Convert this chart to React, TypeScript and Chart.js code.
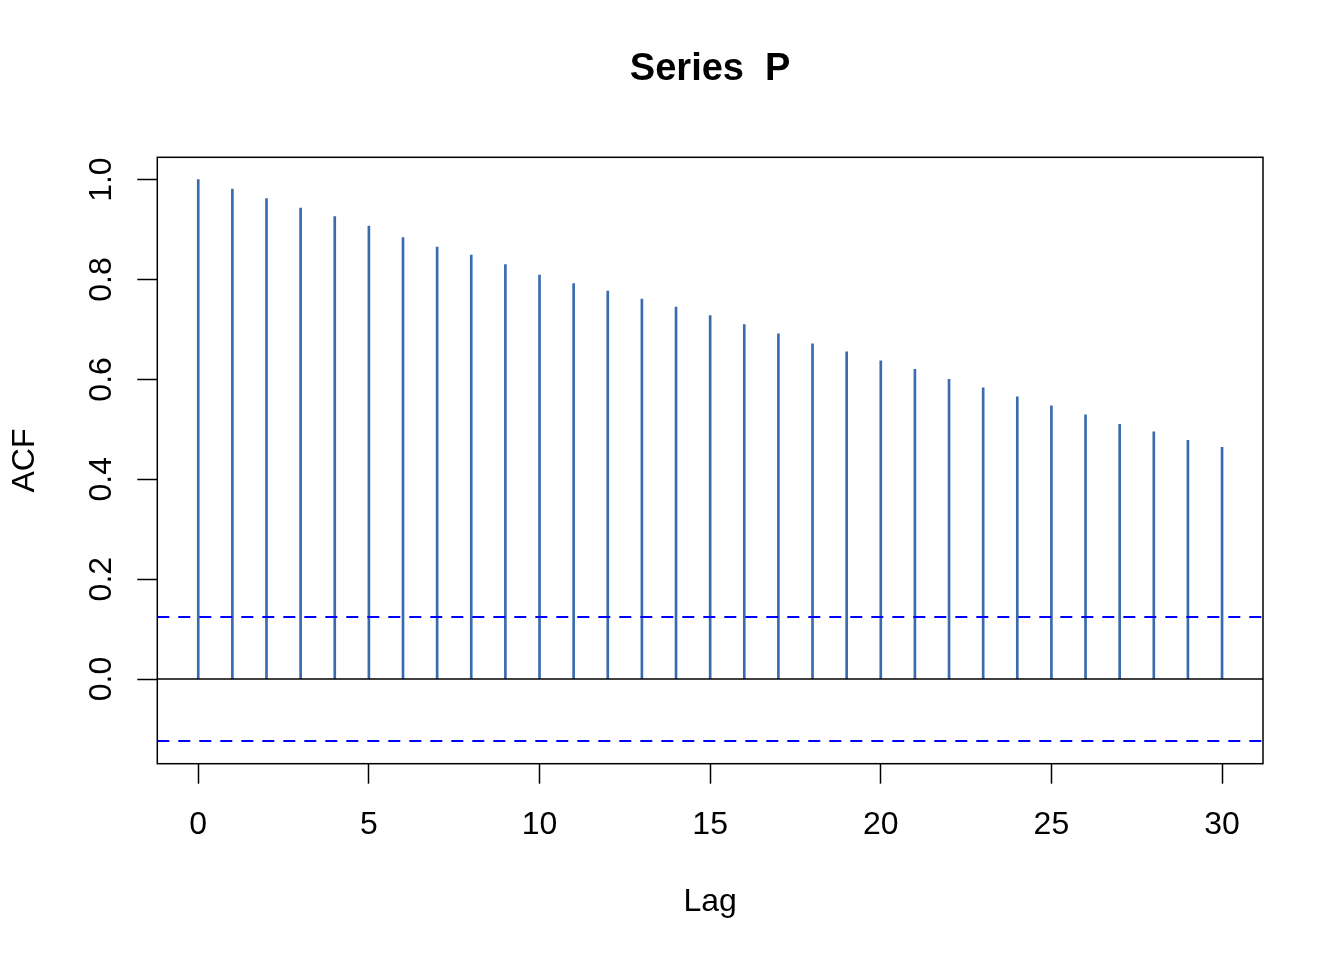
import React, { useEffect, useRef } from "react";
import { Chart, registerables } from "chart.js";

Chart.register(...registerables);

// ---- data ----
const chartTitle = "Series  P";
const xAxisTitle = "Lag";
const yAxisTitle = "ACF";
const lags = [0, 1, 2, 3, 4, 5, 6, 7, 8, 9, 10, 11, 12, 13, 14, 15, 16, 17, 18, 19, 20, 21, 22, 23, 24, 25, 26, 27, 28, 29, 30];
const acfValues = [
  1.0, 0.981, 0.962, 0.943, 0.926, 0.907, 0.884, 0.865, 0.849, 0.83, 0.809,
  0.792, 0.777, 0.761, 0.745, 0.728, 0.71, 0.691, 0.671, 0.655, 0.637,
  0.62, 0.6, 0.583, 0.565, 0.547, 0.529, 0.51, 0.495, 0.478, 0.464,
];
const ciUpper = 0.124;
const ciLower = -0.124;
const xTickValues = [0, 5, 10, 15, 20, 25, 30];
const xTickLabels = ["0", "5", "10", "15", "20", "25", "30"];
const yTickValues = [0, 0.2, 0.4, 0.6, 0.8, 1.0];
const yTickLabels = ["0.0", "0.2", "0.4", "0.6", "0.8", "1.0"];
const xMin = -1.2;
const xMax = 31.2;
const yMin = -0.1695;
const yMax = 1.0447;

const FONT = "'Liberation Sans', Arial, Helvetica, sans-serif";

const boxPlugin = {
  id: "plotBox",
  afterDraw(chart: any) {
    const { ctx, chartArea } = chart;
    ctx.save();
    ctx.strokeStyle = "#000";
    ctx.lineWidth = 1.5;
    ctx.strokeRect(chartArea.left, chartArea.top, chartArea.right - chartArea.left, chartArea.bottom - chartArea.top);
    ctx.restore();
  },
};

export default function App() {
  const ref = useRef<HTMLCanvasElement | null>(null);

  useEffect(() => {
    document.body.style.margin = "0";
    if (!ref.current) return;
    const chart = new Chart(ref.current, {
      type: "bar",
      data: {
        datasets: [
          {
            type: "bar",
            label: "ACF",
            data: lags.map((l, i) => ({ x: l, y: acfValues[i] })),
            backgroundColor: "#3A6BAE",
            borderWidth: 0,
            barThickness: 2,
            order: 3,
          } as any,
          {
            type: "line",
            label: "zero",
            data: [{ x: xMin, y: 0 }, { x: xMax, y: 0 }],
            borderColor: "#000000",
            borderWidth: 1.5,
            pointRadius: 0,
            order: 2,
          } as any,
          {
            type: "line",
            label: "upper",
            data: [{ x: xMin, y: ciUpper }, { x: xMax, y: ciUpper }],
            borderColor: "#0000FF",
            borderWidth: 2,
            borderDash: [12, 9],
            pointRadius: 0,
            order: 1,
          } as any,
          {
            type: "line",
            label: "lower",
            data: [{ x: xMin, y: ciLower }, { x: xMax, y: ciLower }],
            borderColor: "#0000FF",
            borderWidth: 2,
            borderDash: [12, 9],
            pointRadius: 0,
            order: 1,
          } as any,
        ],
      },
      options: {
        responsive: false,
        animation: false,
        events: [],
        layout: { padding: { left: 0, right: 81, top: 0, bottom: 0 } },
        plugins: {
          legend: { display: false },
          tooltip: { enabled: false },
          title: {
            display: true,
            text: chartTitle,
            fullSize: false,
            color: "#000",
            font: { family: FONT, size: 38, weight: "bold", lineHeight: 1.2 },
            padding: { top: 47.2, bottom: 64.5 },
          },
        },
        scales: {
          x: {
            type: "linear",
            min: xMin,
            max: xMax,
            offset: false,
            afterBuildTicks: (scale: any) => {
              scale.ticks = xTickValues.map((v) => ({ value: v }));
            },
            afterFit: (scale: any) => {
              scale.height = 196.3;
            },
            grid: {
              offset: false,
              drawOnChartArea: false,
              drawTicks: true,
              tickLength: 20,
              tickColor: "#000",
              tickWidth: 1.5,
            },
            border: { display: false },
            ticks: {
              autoSkip: false,
              maxRotation: 0,
              minRotation: 0,
              padding: 22,
              color: "#000",
              font: { family: FONT, size: 32, lineHeight: 1.2 },
              callback: (_v: any, i: number) => xTickLabels[i],
            },
            title: {
              display: true,
              text: xAxisTitle,
              color: "#000",
              font: { family: FONT, size: 32, lineHeight: 1.2 },
              padding: { top: 0, bottom: 38.8 },
            },
          },
          y: {
            type: "linear",
            min: yMin,
            max: yMax,
            afterBuildTicks: (scale: any) => {
              scale.ticks = yTickValues.map((v) => ({ value: v }));
            },
            afterFit: (scale: any) => {
              scale.width = 157.3;
            },
            grid: {
              drawOnChartArea: false,
              drawTicks: true,
              tickLength: 20,
              tickColor: "#000",
              tickWidth: 1.5,
            },
            border: { display: false },
            ticks: {
              autoSkip: false,
              minRotation: 90,
              maxRotation: 90,
              crossAlign: "center",
              padding: 13,
              color: "#000",
              font: { family: FONT, size: 32, lineHeight: 1.2 },
              callback: (_v: any, i: number) => yTickLabels[i],
            },
            title: {
              display: true,
              text: yAxisTitle,
              color: "#000",
              font: { family: FONT, size: 32, lineHeight: 1.2 },
              padding: { top: 5.8, bottom: 0 },
            },
          },
        },
      } as any,
      plugins: [boxPlugin],
    });
    return () => chart.destroy();
  }, []);

  return (
    <div style={{ width: 1344, height: 960, background: "#fff" }}>
      <canvas ref={ref} width={1344} height={960} style={{ display: "block" }} />
    </div>
  );
}
